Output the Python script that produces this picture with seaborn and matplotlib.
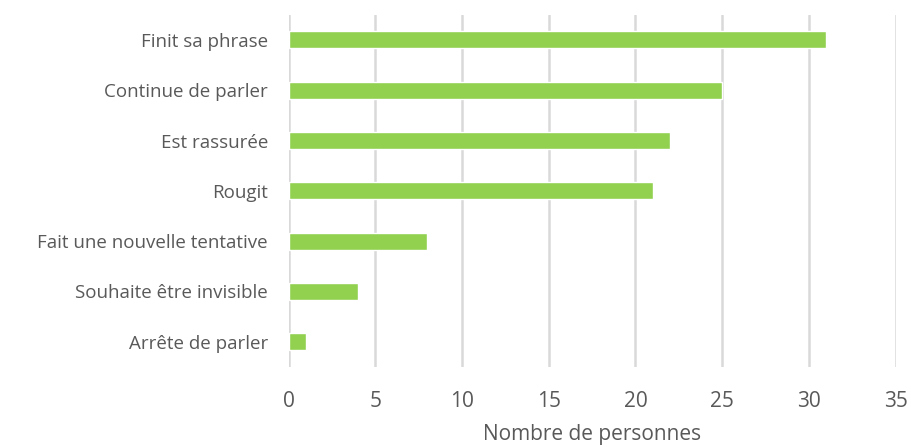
import matplotlib
matplotlib.use('Agg')
import matplotlib.pyplot as plt
import seaborn as sns
import pandas as pd

categories = ['Finit sa phrase', 'Continue de parler', 'Est rassurée', 'Rougit',
              'Fait une nouvelle tentative', 'Souhaite être invisible', 'Arrête de parler']
counts = [31, 25, 22, 21, 8, 4, 1]
xticks = [0, 5, 10, 15, 20, 25, 30, 35]

df = pd.DataFrame({'reaction': categories, 'personnes': counts})

sns.set_style('white')
plt.rcParams['font.family'] = ['Open Sans', 'DejaVu Sans']

fig = plt.figure(figsize=(9.11, 4.48), dpi=100)
ax = fig.add_axes([0.317, 0.181, 0.666, 0.786])
sns.barplot(data=df, x='personnes', y='reaction', color='#92D050', width=0.34,
            saturation=1, ax=ax, zorder=3)

ax.set_xlim(0, 35)
ax.set_ylim(6.5, -0.5)
ax.set_xticks(xticks)
ax.grid(axis='x', color='#D9D9D9', linewidth=1.8, zorder=0)
ax.grid(axis='y', visible=False)
for s in ax.spines.values():
    s.set_visible(False)
ax.tick_params(axis='y', length=0, labelsize=13.5, labelcolor='#595959', pad=15)
ax.tick_params(axis='x', length=0, labelsize=15, labelcolor='#595959', pad=17)
ax.set_ylabel('')
ax.set_xlabel('Nombre de personnes', fontsize=15, color='#595959', labelpad=9)

fig.savefig('out.png', dpi=100)
